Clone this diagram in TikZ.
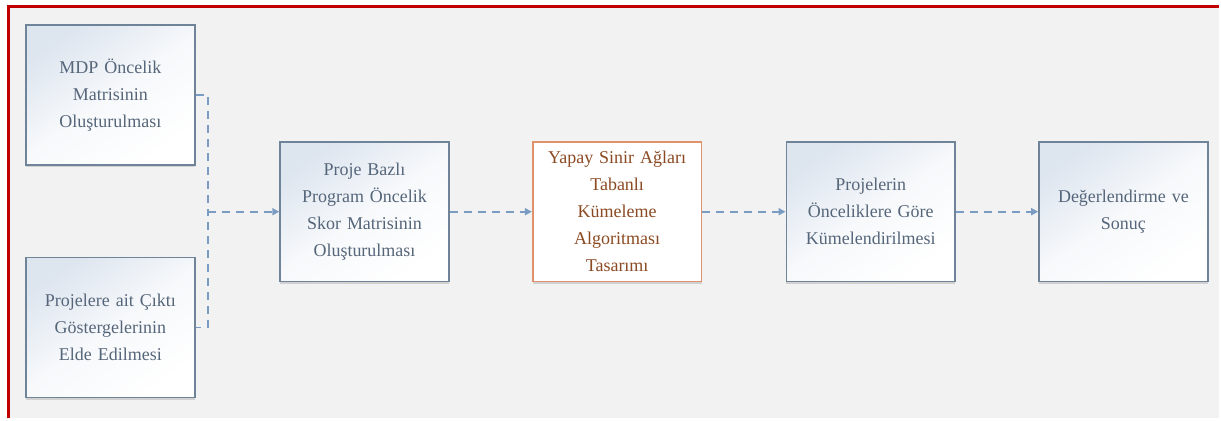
\documentclass[tikz,border=0pt]{standalone}
\usepackage{fontspec}
\setmainfont{Liberation Serif}
\usetikzlibrary{arrows.meta,shadows}
\definecolor{bg}{HTML}{F2F2F2}
\definecolor{frame}{HTML}{C00000}
\definecolor{boxline}{HTML}{6F8399}
\definecolor{boxtext}{HTML}{56667A}
\definecolor{orline}{HTML}{E0926C}
\definecolor{ortext}{HTML}{8B4A22}
\definecolor{conn}{HTML}{7A9CC2}
\definecolor{fillA}{HTML}{DDE5EF}
\tikzset{
  x=1pt,y=-1pt,
  stepbox/.style={draw=boxline, line width=1.6pt, top color=fillA, bottom color=white,
    middle color=white!75!fillA,
    shading angle=35, minimum width=169pt, minimum height=140pt, inner sep=0pt,
    align=center, text=boxtext, font=\fontsize{18}{27}\selectfont, text width=166pt,
    drop shadow={shadow xshift=0pt, shadow yshift=-2.5pt, fill=black!30, opacity=0.5}},
  hlbox/.style={stepbox, draw=orline, top color=white, bottom color=white, middle color=white, text=ortext},
  conline/.style={draw=conn, line width=1.6pt, dash pattern=on 8pt off 6pt},
  conarrow/.style={conline, -{Triangle[length=7pt,width=7pt]}}
}
\begin{document}
\begin{tikzpicture}
\fill[white] (0,0) rectangle (1221,419);
\fill[bg] (10,8) rectangle (1221,419);
\draw[frame, line width=3.5pt] (8.5,419) -- (8.5,6.5) -- (1221,6.5);
\useasboundingbox (0,0) rectangle (1221,419);

\node[stepbox] (mdp) at (110.5,95) {MDP Öncelik\\Matrisinin\\Oluşturulması};
\node[stepbox] (cikti) at (110.5,328) {Projelere ait Çıktı\\Göstergelerinin\\Elde Edilmesi};
\node[stepbox] (skor) at (365,212) {Proje Bazlı\\Program Öncelik\\Skor Matrisinin\\Oluşturulması};
\node[hlbox] (ysa) at (618,212) {Yapay Sinir Ağları\\Tabanlı\\Kümeleme\\Algoritması\\Tasarımı};
\node[stepbox] (kume) at (872,212) {Projelerin\\Önceliklere Göre\\Kümelendirilmesi};
\node[stepbox] (sonuc) at (1125,212) {Değerlendirme ve\\Sonuç};

\coordinate (j) at (208,212);
\draw[conline] (mdp.east) -- (208,95) -- (208,328) -- (cikti.east);
\draw[conarrow] (j) -- (skor.west);
\draw[conarrow] (skor) -- (ysa);
\draw[conarrow] (ysa) -- (kume);
\draw[conarrow] (kume) -- (sonuc);
\end{tikzpicture}
\end{document}
